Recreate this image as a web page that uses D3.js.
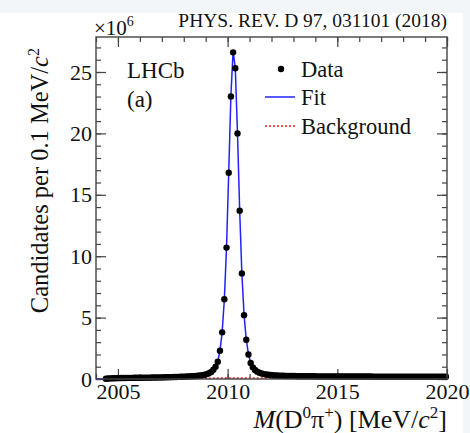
<!DOCTYPE html>
<html>
<head>
<meta charset="utf-8">
<script src="https://cdn.jsdelivr.net/npm/d3@7"></script>
<style>
  body { margin: 0; background: #f3f6f9; }
  svg { display: block; }
  text { font-family: "Liberation Serif", "DejaVu Serif", serif; fill: #111; }
</style>
</head>
<body>
<svg id="chart" width="470" height="433"></svg>
<script>
// bin centres (MeV/c^2), 0.1 MeV bins from the D0 pi threshold up to 2020
var binStart = 2004.45;
// candidates per bin, in units of 10^6
var dataVals = [
  0.02,0.04,0.05,0.06,0.06,0.07,0.07,0.08,0.08,0.08,   // 2004.45 - 2005.35
  0.09,0.09,0.09,0.10,0.10,0.10,0.10,0.11,0.11,0.11,   // 2005.45 - 2006.35
  0.11,0.12,0.12,0.12,0.13,0.13,0.13,0.14,0.14,0.15,   // 2006.45 - 2007.35
  0.15,0.16,0.16,0.17,0.18,0.18,0.19,0.20,0.21,0.22,   // 2007.45 - 2008.35
  0.23,0.24,0.26,0.28,0.31,0.35,0.40,0.47,0.58,0.75,   // 2008.45 - 2009.35
  1.00,1.40,2.30,3.80,6.50,10.7,16.8,23.0,26.6,25.3,   // 2009.45 - 2010.35
  20.0,13.7,8.60,5.20,3.20,2.00,1.30,0.95,0.74,0.60,   // 2010.45 - 2011.35
  0.51,0.45,0.40,0.37,0.34,0.32,0.30,0.29,0.28,0.27,   // 2011.45 - 2012.35
  0.26,0.26,0.25,0.25,0.24,0.24,0.24,0.23,0.23,0.23,   // 2012.45 - 2013.35
  0.23,0.22,0.22,0.22,0.22,0.22,0.21,0.21,0.21,0.21,   // 2013.45 - 2014.35
  0.21,0.21,0.21,0.21,0.20,0.20,0.20,0.20,0.20,0.20,   // 2014.45 - 2015.35
  0.20,0.20,0.20,0.20,0.20,0.20,0.20,0.20,0.20,0.20,   // 2015.45 - 2016.35
  0.20,0.20,0.19,0.19,0.19,0.19,0.19,0.19,0.19,0.19,   // 2016.45 - 2017.35
  0.19,0.19,0.19,0.19,0.19,0.19,0.19,0.19,0.19,0.19,   // 2017.45 - 2018.35
  0.19,0.19,0.19,0.19,0.19,0.19,0.19,0.19,0.19,0.19,   // 2018.45 - 2019.35
  0.19,0.19,0.19,0.19,0.19,0.19                        // 2019.45 - 2019.95
];
// fit curve samples
var fitX = [2004.0,2004.4,2004.5,2005.0,2006.0,2007.0,2007.5,2008.0,2008.5,2008.8,2009.0,
  2009.15,2009.25,2009.35,2009.45,2009.55,2009.65,2009.75,2009.85,2009.95,2010.05,2010.15,
  2010.25,2010.35,2010.45,2010.55,2010.65,2010.75,2010.85,2010.95,2011.05,2011.15,2011.25,
  2011.4,2011.6,2011.8,2012.0,2012.5,2013.0,2014.0,2016.0,2018.0,2020.0];
var fitY = [0,0,0.03,0.07,0.10,0.13,0.15,0.19,0.23,0.29,0.36,
  0.46,0.57,0.74,1.00,1.42,2.30,3.80,6.45,10.7,16.8,23.1,
  26.7,25.3,20.0,13.7,8.55,5.20,3.20,2.00,1.32,0.96,0.74,
  0.55,0.43,0.36,0.31,0.26,0.24,0.21,0.20,0.19,0.19];
// background component
var bkgX = [2004.4,2005.0,2006.0,2008.0,2010.0,2012.0,2016.0,2020.0];
var bkgY = [0,0.03,0.05,0.06,0.07,0.08,0.09,0.10];

var xMajor = [2005, 2010, 2015, 2020];
var yMajor = [0, 5, 10, 15, 20, 25];

var svg = d3.select("#chart");
svg.append("rect").attr("x", 0).attr("y", 13).attr("width", 463).attr("height", 420).attr("fill", "#fff");

var L = 96, R = 447, T = 37, B = 379;
var x = d3.scaleLinear().domain([2004, 2020]).range([L, R]);
var y = d3.scaleLinear().domain([0, 27.85]).range([B, T]);

var pts = dataVals.map(function(v, i){ return {m: binStart + 0.1 * i, v: v}; });

// axes, ROOT style: ticks inside on all four sides
function styleAxis(g){
  g.select(".domain").remove();
  g.selectAll("line").attr("stroke", "#444").attr("stroke-width", 1.2);
  g.selectAll("text").attr("font-size", "22px").attr("fill", "#111")
    .attr("font-family", "Liberation Serif, serif");
}
var xMinor = d3.range(2004, 2020.5, 1), yMinor = d3.range(0, 27.5, 1);

svg.append("g").attr("transform", "translate(0," + B + ")")
  .call(d3.axisBottom(x).tickValues(xMinor).tickSize(-5).tickFormat("")).call(styleAxis);
svg.append("g").attr("transform", "translate(0," + B + ")")
  .call(d3.axisBottom(x).tickValues(xMajor).tickSize(-10).tickPadding(4).tickFormat(d3.format("d"))).call(styleAxis);
svg.append("g").attr("transform", "translate(0," + T + ")")
  .call(d3.axisTop(x).tickValues(xMinor).tickSize(-5).tickFormat("")).call(styleAxis);
svg.append("g").attr("transform", "translate(0," + T + ")")
  .call(d3.axisTop(x).tickValues(xMajor).tickSize(-10).tickFormat("")).call(styleAxis);
svg.append("g").attr("transform", "translate(" + L + ",0)")
  .call(d3.axisLeft(y).tickValues(yMinor).tickSize(-5).tickFormat("")).call(styleAxis);
svg.append("g").attr("transform", "translate(" + L + ",0)")
  .call(d3.axisLeft(y).tickValues(yMajor).tickSize(-10).tickPadding(4)).call(styleAxis);
svg.append("g").attr("transform", "translate(" + R + ",0)")
  .call(d3.axisRight(y).tickValues(yMinor).tickSize(-5).tickFormat("")).call(styleAxis);
svg.append("g").attr("transform", "translate(" + R + ",0)")
  .call(d3.axisRight(y).tickValues(yMajor).tickSize(-10).tickFormat("")).call(styleAxis);

// background + fit
svg.append("path")
  .attr("d", d3.line().x(function(d){ return x(d[0]); }).y(function(d){ return y(d[1]); })(d3.zip(bkgX, bkgY)))
  .attr("fill", "none").attr("stroke", "#e8231f").attr("stroke-width", 1.6).attr("stroke-dasharray", "2,2");
svg.append("path")
  .attr("d", d3.line().x(function(d){ return x(d[0]); }).y(function(d){ return y(d[1]); })(d3.zip(fitX, fitY)))
  .attr("fill", "none").attr("stroke", "#2222ff").attr("stroke-width", 1.5);

// data points
svg.append("g").selectAll("circle").data(pts).enter().append("circle")
  .attr("cx", function(d){ return x(d.m); })
  .attr("cy", function(d){ return y(d.v); })
  .attr("r", 3.2).attr("fill", "#000");

// frame
svg.append("rect").attr("x", L).attr("y", T).attr("width", R - L).attr("height", B - T)
  .attr("fill", "none").attr("stroke", "#444").attr("stroke-width", 1.4);

// labels
svg.append("text").attr("x", 447).attr("y", 27).attr("text-anchor", "end")
  .attr("font-size", "19.5px").text("PHYS. REV. D 97, 031101 (2018)");

var mult = svg.append("text").attr("x", 94).attr("y", 35).attr("font-size", "21px");
mult.append("tspan").text("×10");
mult.append("tspan").attr("dy", -9).attr("font-size", "14px").text("6");

svg.append("text").attr("x", 127).attr("y", 78).attr("font-size", "23px").text("LHCb");
svg.append("text").attr("x", 127).attr("y", 107).attr("font-size", "23px").text("(a)");

// legend
svg.append("circle").attr("cx", 281).attr("cy", 69).attr("r", 3.2).attr("fill", "#000");
svg.append("text").attr("x", 301).attr("y", 77).attr("font-size", "22.5px").text("Data");
svg.append("line").attr("x1", 265).attr("x2", 295).attr("y1", 97).attr("y2", 97)
  .attr("stroke", "#2222ff").attr("stroke-width", 1.5);
svg.append("text").attr("x", 301).attr("y", 105).attr("font-size", "22.5px").text("Fit");
svg.append("line").attr("x1", 265).attr("x2", 295).attr("y1", 126).attr("y2", 126)
  .attr("stroke", "#e8231f").attr("stroke-width", 1.6).attr("stroke-dasharray", "2,2");
svg.append("text").attr("x", 301).attr("y", 134).attr("font-size", "22.5px").text("Background");

// x title
var xt = svg.append("text").attr("x", 447).attr("y", 428).attr("text-anchor", "end").attr("font-size", "26px");
xt.append("tspan").attr("font-style", "italic").text("M");
xt.append("tspan").text("(D");
xt.append("tspan").attr("dy", -10).attr("font-size", "17px").text("0");
xt.append("tspan").attr("dy", 10).text("π");
xt.append("tspan").attr("dy", -10).attr("font-size", "17px").text("+");
xt.append("tspan").attr("dy", 10).text(") [MeV/");
xt.append("tspan").attr("font-style", "italic").text("c");
xt.append("tspan").attr("dy", -10).attr("font-size", "17px").text("2");
xt.append("tspan").attr("dy", 10).text("]");

// y title
var yt = svg.append("text").attr("transform", "translate(48,48) rotate(-90)")
  .attr("text-anchor", "end").attr("font-size", "24.5px");
yt.append("tspan").text("Candidates per 0.1 MeV/");
yt.append("tspan").attr("font-style", "italic").text("c");
yt.append("tspan").attr("dy", -9).attr("font-size", "16px").text("2");
</script>
</body>
</html>
